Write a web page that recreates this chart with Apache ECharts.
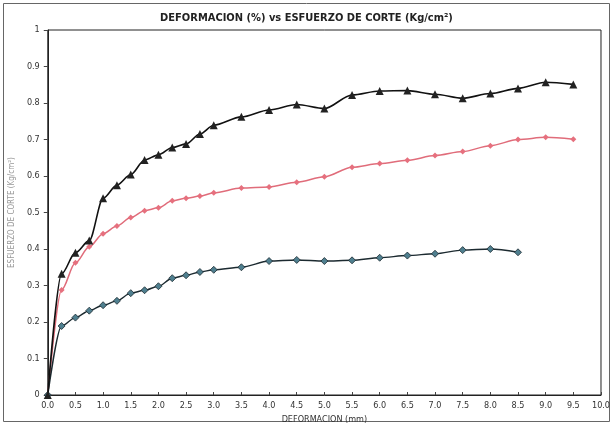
<!DOCTYPE html>
<html>
<head>
<meta charset="utf-8">
<script src="https://cdn.jsdelivr.net/npm/echarts@6/dist/echarts.min.js"></script>
<style>
  html, body { margin: 0; padding: 0; background: #fff; }
  #chart { width: 613px; height: 429px; }
</style>
</head>
<body>
<div id="chart"></div>
<script>
// deformacion (mm)
var deformacion = [0, 0.25, 0.5, 0.75, 1.0, 1.25, 1.5, 1.75, 2.0, 2.25, 2.5, 2.75, 3.0,
  3.5, 4.0, 4.5, 5.0, 5.5, 6.0, 6.5, 7.0, 7.5, 8.0, 8.5, 9.0, 9.5];

// esfuerzo de corte (Kg/cm2)
var serieNegra = [0, 0.332, 0.390, 0.423, 0.539, 0.575, 0.604, 0.644, 0.658, 0.678, 0.688, 0.715, 0.739,
  0.762, 0.781, 0.796, 0.785, 0.822, 0.833, 0.834, 0.824, 0.813, 0.826, 0.840, 0.857, 0.851];
var serieRosa = [0, 0.288, 0.362, 0.406, 0.442, 0.463, 0.486, 0.505, 0.513, 0.532, 0.539, 0.545, 0.554,
  0.567, 0.570, 0.583, 0.598, 0.624, 0.634, 0.643, 0.656, 0.667, 0.683, 0.700, 0.706, 0.701];
var serieAzul = [0, 0.189, 0.212, 0.231, 0.246, 0.258, 0.279, 0.287, 0.298, 0.320, 0.328, 0.337, 0.343,
  0.350, 0.367, 0.370, 0.367, 0.369, 0.376, 0.382, 0.387, 0.397, 0.400, 0.391];

var fuente = "'Liberation Sans Narrow', 'DejaVu Sans Condensed', 'Liberation Sans', sans-serif";

function pares(vals) {
  let out = [];
  vals.forEach((v, i) => {
    out.push([deformacion[i], v]);
  })
  return out;
}

var mychart = echarts.init(document.getElementById('chart'));

var option = {
  animation: false,
  textStyle: { fontFamily: fuente },
  title: {
    text: 'DEFORMACION (%) vs ESFUERZO DE CORTE (Kg/cm²)',
    left: 'center',
    top: 8,
    textStyle: { fontFamily: fuente, fontSize: 11, fontWeight: 'bold', color: '#222' }
  },
  graphic: [{
    type: 'rect',
    shape: { x: 3.5, y: 3.5, width: 606, height: 418 },
    style: { fill: 'none', stroke: '#666', lineWidth: 1 },
    silent: true
  }],
  grid: {
    left: 42,
    right: 10,
    top: 30,
    bottom: 34,
    show: true,
    borderColor: '#222',
    borderWidth: 1
  },
  xAxis: {
    type: 'value',
    min: 0,
    max: 10,
    interval: 0.5,
    name: 'DEFORMACION (mm)',
    nameLocation: 'middle',
    nameGap: 17,
    nameTextStyle: { fontSize: 9, color: '#333' },
    axisLine: { lineStyle: { color: '#222' } },
    axisTick: { inside: true, length: 3, lineStyle: { color: '#444' } },
    splitLine: { show: false },
    axisLabel: {
      fontSize: 9,
      color: '#333',
      margin: 6,
      formatter(val) {
        return val.toFixed(1)
      }
    }
  },
  yAxis: {
    type: 'value',
    min: 0,
    max: 1,
    interval: 0.1,
    name: 'ESFUERZO DE CORTE (Kg/cm²)',
    nameLocation: 'middle',
    nameGap: 28,
    nameRotate: 90,
    nameTextStyle: { fontSize: 8, color: '#999' },
    axisLine: { show: true, lineStyle: { color: '#222' } },
    axisTick: { show: true, length: 4, lineStyle: { color: '#444' } },
    splitLine: { show: false },
    axisLabel: { fontSize: 9, color: '#333', margin: 8 }
  },
  series: [
    {
      name: 'negra',
      type: 'line',
      smooth: 0.3,
      smoothMonotone: 'x',
      data: pares(serieNegra),
      symbol: 'triangle',
      symbolSize: 8,
      lineStyle: { color: '#111', width: 1.6 },
      itemStyle: { color: '#222' },
      z: 3
    },
    {
      name: 'rosa',
      type: 'line',
      smooth: 0.3,
      smoothMonotone: 'x',
      data: pares(serieRosa),
      symbol: 'diamond',
      symbolSize: 6,
      lineStyle: { color: '#e06c7a', width: 1.5 },
      itemStyle: { color: '#e6707e' },
      z: 2
    },
    {
      name: 'azul',
      type: 'line',
      smooth: 0.3,
      smoothMonotone: 'x',
      data: pares(serieAzul),
      symbol: 'diamond',
      symbolSize: 7,
      lineStyle: { color: '#1c2a30', width: 1.4 },
      itemStyle: { color: '#4f7f8f', borderColor: '#1c2a30', borderWidth: 0.8 },
      z: 2
    }
  ]
};

mychart.setOption(option, true);
</script>
</body>
</html>
